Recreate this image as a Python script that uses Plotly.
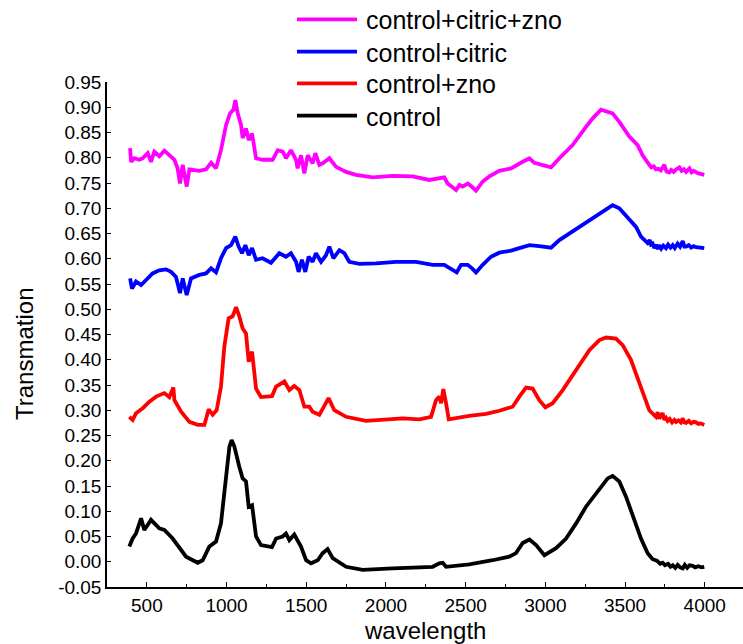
import plotly.graph_objects as go

# ---- data ----
control_x = [390, 411, 432, 464, 484, 526, 578, 610, 662, 704, 746, 819, 850, 892, 934, 965, 997, 1018, 1032, 1049,
             1080, 1101, 1122, 1139, 1160, 1185, 1216, 1285, 1311, 1352, 1373, 1394, 1425, 1467, 1499, 1530, 1572,
             1603, 1634, 1666, 1750, 1854, 2042, 2210, 2293, 2335, 2356, 2377, 2523, 2669, 2774, 2816, 2858, 2900,
             2942, 2994, 3067, 3130, 3193, 3255, 3297, 3349, 3391, 3422, 3464, 3506, 3558, 3600, 3642, 3673, 3700,
             3720, 3736, 3750, 3770, 3785, 3799, 3815, 3830, 3845, 3862, 3875, 3890, 3905, 3924, 3940, 3960, 3980,
             3997]
control_y = [0.030, 0.046, 0.056, 0.086, 0.063, 0.083, 0.066, 0.063, 0.046, 0.027, 0.010, -0.002, 0.003, 0.030,
             0.040, 0.076, 0.168, 0.228, 0.241, 0.228, 0.188, 0.165, 0.159, 0.109, 0.112, 0.050, 0.033, 0.029,
             0.046, 0.050, 0.056, 0.043, 0.054, 0.030, 0.003, -0.003, 0.003, 0.017, 0.025, 0.007, -0.010, -0.016,
             -0.013, -0.011, -0.010, -0.003, -0.002, -0.010, -0.005, 0.003, 0.010, 0.017, 0.037, 0.044, 0.033,
             0.013, 0.027, 0.046, 0.076, 0.109, 0.126, 0.149, 0.165, 0.170, 0.159, 0.129, 0.083, 0.046, 0.017,
             0.005, 0.002, -0.004, -0.002, -0.007, -0.004, -0.010, -0.007, -0.012, -0.006, -0.011, -0.013, -0.006,
             -0.012, -0.007, -0.008, -0.011, -0.009, -0.011, -0.010]

zno_x = [390, 411, 432, 474, 516, 558, 610, 641, 666, 673, 715, 767, 819, 861, 888, 913, 938, 965, 986, 1013,
         1038, 1060, 1080, 1101, 1122, 1139, 1160, 1185, 1216, 1285, 1311, 1363, 1394, 1425, 1457, 1488, 1519,
         1540, 1582, 1613, 1640, 1676, 1750, 1875, 2105, 2210, 2283, 2314, 2335, 2346, 2360, 2377, 2394, 2523,
         2628, 2711, 2795, 2837, 2879, 2920, 2962, 3000, 3046, 3109, 3193, 3276, 3339, 3381, 3443, 3485, 3537,
         3579, 3621, 3652, 3673, 3694, 3705, 3715, 3725, 3736, 3746, 3757, 3767, 3780, 3795, 3810, 3820, 3835,
         3850, 3862, 3872, 3883, 3900, 3915, 3930, 3945, 3960, 3975, 3997]
zno_y = [0.287, 0.281, 0.294, 0.304, 0.317, 0.327, 0.334, 0.326, 0.345, 0.320, 0.297, 0.277, 0.271, 0.271,
         0.302, 0.291, 0.300, 0.347, 0.426, 0.482, 0.486, 0.504, 0.486, 0.462, 0.452, 0.396, 0.416, 0.343,
         0.326, 0.328, 0.347, 0.357, 0.340, 0.348, 0.340, 0.307, 0.307, 0.297, 0.291, 0.310, 0.324, 0.300,
         0.287, 0.279, 0.284, 0.282, 0.287, 0.320, 0.327, 0.314, 0.342, 0.314, 0.282, 0.289, 0.293, 0.299,
         0.307, 0.327, 0.345, 0.343, 0.320, 0.306, 0.314, 0.340, 0.380, 0.419, 0.439, 0.444, 0.442, 0.429,
         0.400, 0.366, 0.327, 0.300, 0.293, 0.287, 0.296, 0.283, 0.290, 0.294, 0.281, 0.285, 0.279, 0.283,
         0.276, 0.281, 0.277, 0.280, 0.276, 0.284, 0.276, 0.275, 0.279, 0.274, 0.277, 0.276, 0.273, 0.274,
         0.271]

citric_x = [395, 407, 432, 464, 495, 536, 578, 620, 652, 683, 708, 725, 750, 777, 829, 871, 903, 934, 965, 997,
            1028, 1055, 1076, 1097, 1118, 1139, 1160, 1185, 1226, 1279, 1331, 1373, 1404, 1436, 1452, 1473, 1494,
            1515, 1540, 1561, 1593, 1624, 1645, 1670, 1708, 1739, 1770, 1833, 1938, 2063, 2189, 2272, 2293, 2366,
            2408, 2444, 2471, 2513, 2540, 2565, 2607, 2659, 2711, 2785, 2837, 2900, 2962, 3036, 3088, 3171, 3255,
            3339, 3422, 3464, 3527, 3569, 3600, 3642, 3655, 3663, 3673, 3684, 3695, 3705, 3715, 3727, 3740, 3757,
            3770, 3785, 3799, 3812, 3830, 3845, 3862, 3872, 3883, 3900, 3915, 3930, 3945, 3960, 3980, 3997]
citric_y = [0.561, 0.541, 0.555, 0.548, 0.558, 0.571, 0.577, 0.579, 0.574, 0.564, 0.532, 0.561, 0.528, 0.561,
            0.568, 0.571, 0.581, 0.573, 0.601, 0.621, 0.627, 0.644, 0.624, 0.611, 0.627, 0.607, 0.621, 0.598,
            0.601, 0.592, 0.611, 0.604, 0.611, 0.594, 0.574, 0.598, 0.574, 0.604, 0.594, 0.611, 0.594, 0.607,
            0.624, 0.601, 0.617, 0.611, 0.594, 0.590, 0.591, 0.594, 0.594, 0.590, 0.588, 0.588, 0.581, 0.573,
            0.588, 0.588, 0.581, 0.573, 0.588, 0.604, 0.612, 0.616, 0.621, 0.627, 0.625, 0.622, 0.637, 0.654,
            0.673, 0.690, 0.706, 0.700, 0.677, 0.663, 0.644, 0.631, 0.637, 0.628, 0.630, 0.621, 0.628, 0.619,
            0.627, 0.620, 0.626, 0.621, 0.628, 0.622, 0.627, 0.621, 0.630, 0.624, 0.635, 0.624, 0.624, 0.627,
            0.622, 0.625, 0.623, 0.622, 0.622, 0.621]

czno_x = [395, 401, 422, 453, 474, 505, 526, 547, 578, 610, 641, 673, 693, 708, 725, 750, 767, 829, 871, 903,
          934, 965, 997, 1022, 1043, 1055, 1070, 1091, 1101, 1122, 1139, 1160, 1185, 1226, 1289, 1321, 1352,
          1373, 1404, 1436, 1446, 1467, 1488, 1509, 1540, 1557, 1582, 1603, 1645, 1687, 1750, 1812, 1917, 2042,
          2168, 2272, 2366, 2387, 2440, 2461, 2481, 2513, 2534, 2565, 2607, 2649, 2711, 2785, 2858, 2900, 2931,
          2983, 3036, 3088, 3171, 3255, 3297, 3349, 3422, 3464, 3527, 3579, 3610, 3652, 3665, 3680, 3694, 3710,
          3725, 3746, 3760, 3778, 3790, 3805, 3820, 3841, 3855, 3870, 3883, 3904, 3918, 3930, 3945, 3960, 3975,
          3997]
czno_y = [0.819, 0.792, 0.799, 0.796, 0.799, 0.809, 0.792, 0.812, 0.803, 0.814, 0.805, 0.796, 0.779, 0.749,
          0.786, 0.743, 0.777, 0.774, 0.777, 0.790, 0.779, 0.815, 0.865, 0.888, 0.895, 0.914, 0.888, 0.865,
          0.839, 0.858, 0.835, 0.848, 0.799, 0.796, 0.796, 0.815, 0.812, 0.799, 0.815, 0.796, 0.779, 0.805,
          0.769, 0.805, 0.789, 0.809, 0.786, 0.789, 0.799, 0.782, 0.772, 0.766, 0.761, 0.764, 0.763, 0.756,
          0.761, 0.749, 0.736, 0.746, 0.743, 0.749, 0.744, 0.735, 0.753, 0.763, 0.774, 0.779, 0.792, 0.799,
          0.790, 0.786, 0.781, 0.799, 0.825, 0.861, 0.878, 0.895, 0.888, 0.871, 0.842, 0.825, 0.805, 0.786,
          0.781, 0.783, 0.777, 0.778, 0.775, 0.786, 0.773, 0.771, 0.776, 0.772, 0.777, 0.781, 0.774, 0.777,
          0.772, 0.779, 0.771, 0.774, 0.771, 0.769, 0.768, 0.766]

series_names = ["control+citric+zno", "control+citric", "control+zno", "control"]
series_colors = ["#FF00FF", "#0000FF", "#FF0000", "#000000"]
series_x = [czno_x, citric_x, zno_x, control_x]
series_y = [czno_y, citric_y, zno_y, control_y]

y_ticks = [round(-0.05 + 0.05 * i, 2) for i in range(21)]
x_ticks = [500, 1000, 1500, 2000, 2500, 3000, 3500, 4000]

# ---- layout geometry (pixels) ----
W, H = 743, 644
L, R, T, B = 107, 0, 82, 57
pw, ph = W - L - R, H - T - B


def px_x(X):
    return (X - L) / pw


def px_y(Y):
    return (H - B - Y) / ph


FONT = "Liberation Sans, Arial, sans-serif"

fig = go.Figure()
for name, color, xs, ys in zip(series_names, series_colors, series_x, series_y):
    fig.add_trace(go.Scatter(x=xs, y=ys, mode="lines", name=name,
                             line=dict(color=color, width=3.8), showlegend=False))

# manual legend (placed like the reference)
legend_rows = [19.3, 51.7, 83.3, 115.7]
shapes = []
annotations = []
for name, color, Y in zip(series_names, series_colors, legend_rows):
    shapes.append(dict(type="line", xref="paper", yref="paper",
                       x0=px_x(297), x1=px_x(357), y0=px_y(Y), y1=px_y(Y),
                       line=dict(color=color, width=3.8)))
    annotations.append(dict(xref="paper", yref="paper", x=px_x(364), y=px_y(Y + 1),
                            xanchor="left", yanchor="middle", text=name, showarrow=False,
                            font=dict(family=FONT, size=25, color="black")))

annotations.append(dict(xref="paper", yref="paper", x=0.5, y=px_y(630), xanchor="center",
                        yanchor="middle", text="wavelength", showarrow=False,
                        font=dict(family=FONT, size=24, color="black")))
annotations.append(dict(xref="paper", yref="paper", x=px_x(24), y=px_y(354), xanchor="center",
                        yanchor="middle", text="Transmation", showarrow=False, textangle=-90,
                        font=dict(family=FONT, size=24, color="black")))

fig.update_layout(
    width=W, height=H,
    margin=dict(l=L, r=R, t=T, b=B, pad=0),
    paper_bgcolor="white", plot_bgcolor="white",
    font=dict(family=FONT, size=19, color="black"),
    shapes=shapes, annotations=annotations,
    showlegend=False,
)
fig.update_xaxes(range=[250, 4240], tickvals=x_ticks, ticktext=[str(v) for v in x_ticks],
                 showgrid=False, zeroline=False, showline=True, linecolor="black", linewidth=1.5,
                 ticks="inside", ticklen=5, tickwidth=1, tickcolor="black",
                 minor=dict(dtick=250, tick0=250, ticks="inside", ticklen=3, tickcolor="black"),
                 tickfont=dict(family=FONT, size=19, color="black"))
fig.update_yaxes(range=[-0.05, 0.95], tickvals=y_ticks, ticktext=[f"{v:.2f}" for v in y_ticks],
                 showgrid=False, zeroline=False, showline=True, linecolor="black", linewidth=1.5,
                 ticks="inside", ticklen=4, tickwidth=1, tickcolor="black",
                 tickfont=dict(family=FONT, size=19, color="black"))

fig.write_html("out.html", config={"displayModeBar": False},
               post_script="document.body.style.margin='0';document.body.style.padding='0';")
